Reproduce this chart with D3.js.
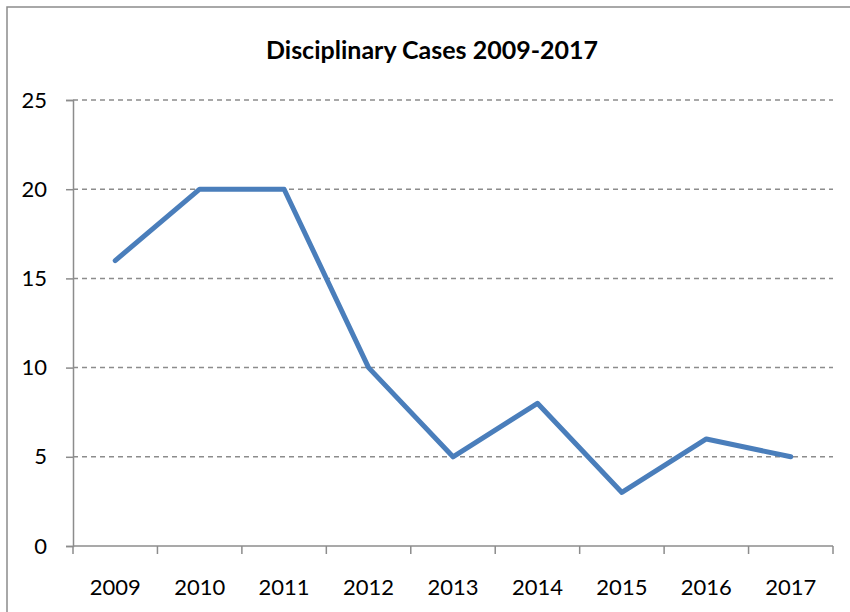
<!DOCTYPE html>
<html>
<head>
<meta charset="utf-8">
<script src="https://cdn.jsdelivr.net/npm/d3@7"></script>
<style>
  html, body { margin: 0; padding: 0; background: #fff; }
  svg { display: block; }
</style>
</head>
<body>
<svg id="chart" width="850" height="612"></svg>
<script>
const years = ["2009", "2010", "2011", "2012", "2013", "2014", "2015", "2016", "2017"];
const cases = [16, 20, 20, 10, 5, 8, 3, 6, 5];
const yTicks = [0, 5, 10, 15, 20, 25];

const svg = d3.select("#chart");
const margin = { top: 100, right: 17, bottom: 66, left: 73 };
const width = 850 - margin.left - margin.right;
const height = 612 - margin.top - margin.bottom;
const font = "Lato, 'Open Sans', sans-serif";

// outer frame
svg.append("rect")
  .attr("x", 7).attr("y", 7)
  .attr("width", 860).attr("height", 620)
  .attr("fill", "none")
  .attr("stroke", "#8c8c8c")
  .attr("stroke-width", 1.5);

svg.append("text")
  .attr("x", 432)
  .attr("y", 59)
  .attr("text-anchor", "middle")
  .style("font-family", font)
  .style("font-weight", "bold")
  .style("font-size", "25px")
  .text("Disciplinary Cases 2009-2017");

const g = svg.append("g")
  .attr("transform", `translate(${margin.left},${margin.top})`);

const x = d3.scaleBand().domain(years).range([0, width]);
const y = d3.scaleLinear().domain([0, 25]).range([height, 0]);

// gridlines
g.selectAll(".grid")
  .data(yTicks.filter(d => d > 0))
  .enter()
  .append("line")
  .attr("x1", 0)
  .attr("x2", width)
  .attr("y1", d => y(d))
  .attr("y2", d => y(d))
  .attr("stroke", "#8c8c8c")
  .attr("stroke-width", 1.5)
  .attr("stroke-dasharray", "5,4");

// y axis
const yAxis = g.append("g")
  .call(d3.axisLeft(y).tickValues(yTicks).tickSize(7).tickPadding(19));
yAxis.select(".domain").attr("stroke", "#8c8c8c").attr("stroke-width", 1.5);
yAxis.selectAll(".tick line").attr("stroke", "#8c8c8c").attr("stroke-width", 1.5);
yAxis.selectAll("text")
  .style("font-family", font)
  .style("font-size", "22px")
  .attr("fill", "#000");

// x axis: ticks at category boundaries
const xAxis = g.append("g").attr("transform", `translate(0,${height})`);
xAxis.append("line")
  .attr("x1", 0).attr("x2", width)
  .attr("stroke", "#8c8c8c").attr("stroke-width", 1.5);
xAxis.selectAll(".bt")
  .data(years.concat(["end"]))
  .enter()
  .append("line")
  .attr("x1", (d, i) => i < years.length ? x(d) : width)
  .attr("x2", (d, i) => i < years.length ? x(d) : width)
  .attr("y1", 0).attr("y2", 8)
  .attr("stroke", "#8c8c8c").attr("stroke-width", 1.5);
xAxis.selectAll(".lbl")
  .data(years)
  .enter()
  .append("text")
  .attr("x", d => x(d) + x.bandwidth() / 2)
  .attr("y", 49)
  .attr("text-anchor", "middle")
  .style("font-family", font)
  .style("font-size", "22px")
  .text(d => d);

// line
const line = d3.line()
  .x((d, i) => x(years[i]) + x.bandwidth() / 2)
  .y(d => y(d));

g.append("path")
  .datum(cases)
  .attr("d", line)
  .attr("fill", "none")
  .attr("stroke", "#4a7ebb")
  .attr("stroke-width", 5)
  .attr("stroke-linecap", "round")
  .attr("stroke-linejoin", "round");
</script>
</body>
</html>
